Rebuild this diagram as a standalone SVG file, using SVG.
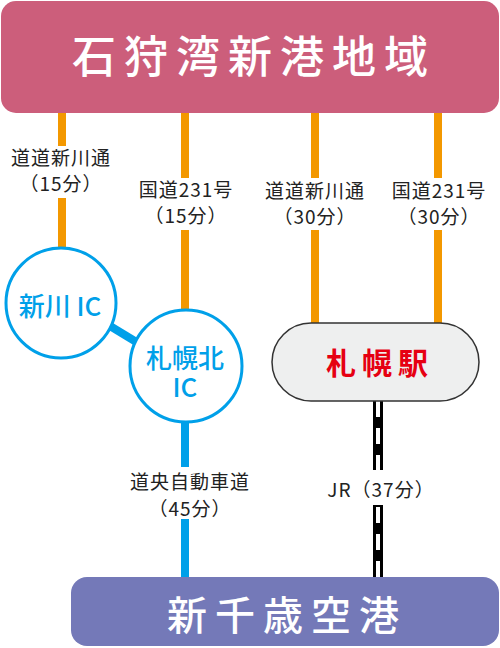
<svg xmlns="http://www.w3.org/2000/svg" width="500" height="648" viewBox="0 0 500 648">
<style>
.t{font-family:"Noto Sans CJK JP","Noto Sans",sans-serif;text-anchor:middle}
.lbl{font-size:19px;fill:#222;letter-spacing:1px}
.or{stroke:#F39800;stroke-width:8;fill:none}
.bl{stroke:#00A0E9;stroke-width:8;fill:none}
.ic{fill:#fff;stroke:#00A0E9;stroke-width:3}
.ict{font-size:26px;fill:#00A0E9;font-weight:500}
</style>
<g id="connectors">
<line class="or" x1="62" y1="110" x2="62" y2="146"/>
<line class="or" x1="62" y1="198" x2="62" y2="248"/>
<line class="or" x1="185" y1="110" x2="185" y2="178"/>
<line class="or" x1="185" y1="230" x2="185" y2="310"/>
<line class="or" x1="315" y1="110" x2="315" y2="178"/>
<line class="or" x1="315" y1="230" x2="315" y2="324"/>
<line class="or" x1="438" y1="110" x2="438" y2="178"/>
<line class="or" x1="438" y1="230" x2="438" y2="324"/>
<line class="bl" x1="110" y1="326" x2="138" y2="343"/>
<line class="bl" x1="185" y1="420" x2="185" y2="467"/>
<line class="bl" x1="185" y1="519" x2="185" y2="580"/>
<g id="jr">
<line x1="378" y1="400" x2="378" y2="470" stroke="#000" stroke-width="10"/>
<line x1="378" y1="505" x2="378" y2="580" stroke="#000" stroke-width="10"/>
<line x1="378" y1="401" x2="378" y2="470" stroke="#fff" stroke-width="4" stroke-dasharray="16 11"/>
<line x1="378" y1="507" x2="378" y2="580" stroke="#fff" stroke-width="4" stroke-dasharray="16 11"/>
</g>
<text class="t lbl" x="61" y="165">道道新川通</text>
<text class="t lbl" x="61" y="191">（15分）</text>
<text class="t lbl" x="186" y="197">国道231号</text>
<text class="t lbl" x="186" y="223">（15分）</text>
<text class="t lbl" x="315" y="198">道道新川通</text>
<text class="t lbl" x="315" y="224">（30分）</text>
<text class="t lbl" x="439" y="198">国道231号</text>
<text class="t lbl" x="439" y="224">（30分）</text>
<text class="t lbl" x="190" y="489">道央自動車道</text>
<text class="t lbl" x="190" y="516">（45分）</text>
<text class="t lbl" x="381" y="497" letter-spacing="0">JR（37分）</text>
</g>
<g id="ishikari">
<rect x="1" y="1" width="498" height="112" rx="15" fill="#CC5E7B"/>
<text class="t" x="254" y="73" font-size="44" fill="#fff" font-weight="500" letter-spacing="8">石狩湾新港地域</text>
</g>
<g id="shinkawa-ic">
<circle class="ic" cx="61" cy="303" r="55"/>
<text class="t ict" x="60" y="316">新川 IC</text>
</g>
<g id="sapporokita-ic">
<circle class="ic" cx="186" cy="366" r="56"/>
<text class="t ict" x="185" y="368" font-size="25">札幌北</text>
<text class="t ict" x="185" y="397" font-size="25">IC</text>
</g>
<g id="sapporo-station">
<rect x="272" y="323" width="207" height="78" rx="39" fill="#EEEFEF" stroke="#333" stroke-width="1.5"/>
<text class="t" x="380" y="374" font-size="30" fill="#E60012" font-weight="700" letter-spacing="6">札幌駅</text>
</g>
<g id="new-chitose">
<rect x="71" y="577" width="428" height="69" rx="16" fill="#7479B8"/>
<text class="t" x="287" y="630" font-size="40" fill="#fff" font-weight="500" letter-spacing="8">新千歳空港</text>
</g>
</svg>
